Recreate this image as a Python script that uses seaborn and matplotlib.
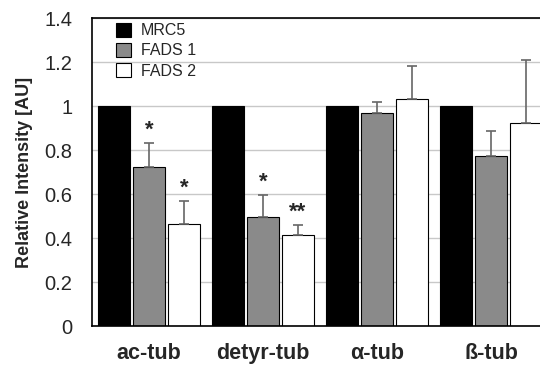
import pandas as pd
import matplotlib
matplotlib.use('Agg')
import matplotlib.pyplot as plt
import seaborn as sns

# 数据
proteins = ['ac-tub', 'detyr-tub', 'α-tub', 'ß-tub']
lines = ['MRC5', 'FADS 1', 'FADS 2']
mrc5 = [1.0, 1.0, 1.0, 1.0]
fads1 = [0.723, 0.495, 0.968, 0.773]
fads2 = [0.464, 0.414, 1.032, 0.923]
fads1_err = [0.107, 0.10, 0.05, 0.113]
fads2_err = [0.104, 0.045, 0.148, 0.287]
fads1_sig = ['*', '*', '', '']
fads2_sig = ['*', '**', '', '']

df = pd.DataFrame({
    'protein': proteins * 3,
    'line': [l for l in lines for _ in proteins],
    'value': mrc5 + fads1 + fads2,
})

sns.set_style('white')
plt.rcParams['font.family'] = ['Liberation Sans', 'DejaVu Sans']

fig = plt.figure(figsize=(5.4, 3.66), dpi=100)
ax = fig.add_axes([92 / 540, 40 / 366, 456 / 540, 308 / 366])

colors = ['black', '#8a8a8a', 'white']
sns.barplot(data=df, x='protein', y='value', hue='line', order=proteins,
            hue_order=lines, palette=colors, width=0.92, gap=0.11,
            edgecolor='black', linewidth=0.8, errorbar=None, ax=ax, zorder=2)

# 误差线（只向上）和显著性标记
for cont, errs, sigs in [(ax.containers[1], fads1_err, fads1_sig),
                         (ax.containers[2], fads2_err, fads2_sig)]:
    for bar, e, s in zip(cont, errs, sigs):
        xc = bar.get_x() + bar.get_width() / 2
        h = bar.get_height()
        ax.errorbar(xc, h, yerr=[[0], [e]], fmt='none', ecolor='#666666',
                    elinewidth=1.2, capsize=3.5, capthick=1.2, zorder=3)
        if s:
            ax.text(xc, h + e + 0.06, s, ha='center', va='center',
                    fontsize=16, fontweight='bold')

ax.set_xlim(-0.5, 3.5)
ax.set_ylim(0, 1.4)
ax.set_yticks([0, 0.2, 0.4, 0.6, 0.8, 1.0, 1.2, 1.4])
ax.set_yticklabels(['0', '0.2', '0.4', '0.6', '0.8', '1', '1.2', '1.4'])
ax.yaxis.grid(True, color='#c8c8c8', linewidth=1)
ax.set_axisbelow(True)
ax.tick_params(axis='y', length=0, pad=14, labelsize=14.5)
ax.tick_params(axis='x', length=0, pad=12, labelsize=15.5)
for lab in ax.get_xticklabels():
    lab.set_fontweight('bold')
ax.set_xlabel('')
ax.set_ylabel('Relative Intensity [AU]', fontsize=13, fontweight='bold', labelpad=8)

for side in ['left', 'bottom', 'top']:
    ax.spines[side].set_visible(True)
    ax.spines[side].set_color('black')
    ax.spines[side].set_linewidth(1.2)
ax.spines['right'].set_visible(False)

ax.legend(loc='upper left', bbox_to_anchor=(0.035, 1.01), frameon=False,
          fontsize=11.5, handlelength=0.95, handleheight=0.95, handletextpad=0.6,
          labelspacing=0.3, borderpad=0)

plt.savefig('out.png', dpi=100)
